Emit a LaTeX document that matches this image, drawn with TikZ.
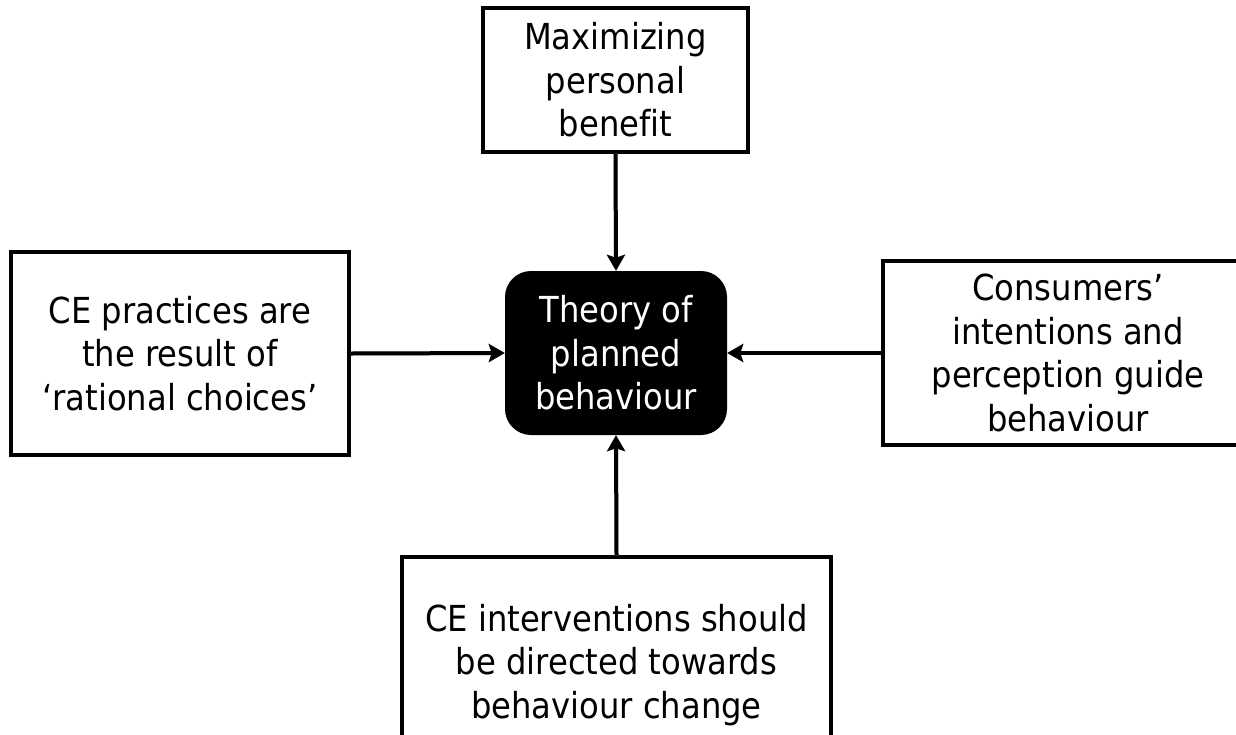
\documentclass[tikz,border=0pt]{standalone}
\usepackage{fontspec}
\setmainfont[Ligatures=NoCommon]{DejaVu Sans Condensed}
\usetikzlibrary{arrows.meta}
\begin{document}
\begin{tikzpicture}[x=1pt,y=-1pt,
  txt/.style={align=center,inner sep=0pt,font=\fontsize{35.8}{43.5}\selectfont},
  box/.style={txt,draw=black,line width=3.5pt,fill=white},
  core/.style={txt,fill=black,text=white,rounded corners=26pt},
  link/.style={line width=4pt,-{Stealth[length=16pt,width=18pt,inset=3pt]}},
  linkshade/.style={link,draw=black!22,fill=black!22,shift={(1.5,2.5)}},
]
\useasboundingbox (0,0) rectangle (1236,734);
\clip (0,0) rectangle (1236,734);

% central concept
\node[core,minimum width=222pt,minimum height=164pt] (tpb) at (616,353)
  {Theory of\\planned\\behaviour};

% surrounding statements
\node[box,minimum width=265pt,minimum height=144pt] (benefit) at (615.5,80)
  {Maximizing\\personal\\benefit};
\node[box,minimum width=338pt,minimum height=203pt] (rational) at (180,353.5)
  {CE practices are\\the result of\\‘rational choices’};
\node[box,minimum width=370pt,minimum height=184pt] (intent) at (1068,353)
  {Consumers’\\intentions and\\perception guide\\behaviour};
\node[box,minimum width=429pt,minimum height=216pt] (change) at (616.5,665)
  {CE interventions should\\be directed towards\\behaviour change};

% connectors with a soft drop shade
\draw[linkshade] (benefit.south) -- (tpb.north);
\draw[linkshade] (rational.east) -- (tpb.west);
\draw[linkshade] (intent.west) -- (tpb.east);
\draw[linkshade] (change.north) -- (tpb.south);

\draw[link] (benefit.south) -- (tpb.north);
\draw[link] (rational.east) -- (tpb.west);
\draw[link] (intent.west) -- (tpb.east);
\draw[link] (change.north) -- (tpb.south);
\end{tikzpicture}
\end{document}
